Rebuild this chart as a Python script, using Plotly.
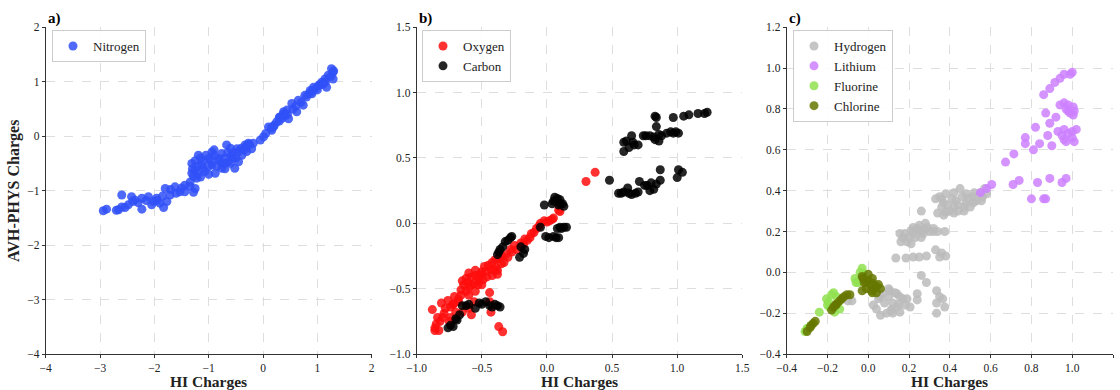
import plotly.graph_objects as go

# ---------------- data ----------------
N_x = [-2.94, -2.88, -2.66, -2.60, -2.54, -2.48, -2.42, -2.36, -2.23, -2.23, -2.11, -2.02,
       -1.96, -1.90, -1.83, -1.77, -1.80, -1.71, -1.62, -1.53, -1.44, -1.44, -1.28, -1.25,
       -1.34, -1.28, -1.31, -1.19, -1.25, -1.13, -1.07, -0.94, -0.94, -0.88, -0.76, -0.76,
       -0.67, -0.64, -0.58, -0.52, -0.48, -0.39, -0.33, -0.27, -0.21, -0.18, -0.45, -0.82,
       -1.00, -1.31, -1.22, -1.10, -0.70, -0.55, -0.30, -0.05, 0.01, 0.10, 0.16, 0.25,
       0.31, 0.37, 0.44, 0.47, 0.53, 0.62, 0.65, 0.74, 0.77, 0.87, 0.96, 1.02, 1.08, 1.14,
       1.17, 1.20, 1.26, 1.29, 1.29, 0.20, 0.40, 0.90, 1.10,
       -1.25, -1.20, -1.15, -1.10, -1.05, -1.00, -0.95, -0.90, -0.85, -0.80, -0.75, -0.70,
       -0.65, -0.60, -0.55, -0.50, -0.45, -0.40, -0.35, -0.30, -0.25, -1.20, -1.00, -0.90,
       -0.60, -0.70, -1.30, -1.15,
       -2.30, -2.15, -2.05, -1.95, -1.85, -1.70, -1.60, -1.50, -1.35, -2.40, -2.60, -2.70,
       0.05, 0.20, 0.30, 0.35, 0.40, 0.45, 0.38, 0.30, 0.55, 0.70, 0.80, 0.85, 0.90, 1.00,
       1.05, 1.12, 1.15, 1.25, 1.30, 0.93, 0.60, 0.15]
N_y = [-1.37, -1.34, -1.35, -1.08, -1.31, -1.26, -1.11, -1.17, -1.34, -1.14, -1.11, -1.20,
       -1.14, -1.23, -1.31, -1.20, -0.96, -1.08, -0.93, -1.02, -0.90, -1.02, -1.03, -0.96,
       -0.84, -0.74, -0.50, -0.35, -0.62, -0.53, -0.65, -0.29, -0.53, -0.68, -0.32, -0.59,
       -0.16, -0.47, -0.35, -0.59, -0.23, -0.35, -0.16, -0.13, -0.23, -0.13, -0.47, -0.41,
       -0.41, -0.68, -0.77, -0.45, -0.50, -0.40, -0.28, -0.07, -0.01, 0.17, 0.11, 0.26,
       0.35, 0.41, 0.48, 0.32, 0.60, 0.45, 0.66, 0.57, 0.75, 0.84, 0.87, 0.93, 0.99, 1.05,
       0.90, 1.12, 1.24, 1.05, 1.18, 0.18, 0.38, 0.82, 0.95,
       -0.45, -0.55, -0.40, -0.60, -0.35, -0.55, -0.45, -0.35, -0.55, -0.45, -0.50, -0.40,
       -0.30, -0.50, -0.30, -0.40, -0.28, -0.22, -0.25, -0.18, -0.15, -0.70, -0.70, -0.25,
       -0.22, -0.60, -0.60, -0.75,
       -1.22, -1.18, -1.26, -1.18, -1.10, -0.98, -1.05, -0.95, -0.92, -1.20, -1.30, -1.36,
       0.05, 0.20, 0.28, 0.33, 0.38, 0.40, 0.45, 0.35, 0.50, 0.62, 0.72, 0.78, 0.78, 0.85,
       0.95, 0.98, 1.00, 1.10, 1.20, 0.90, 0.55, 0.15]

O_x = [0.30, 0.37, 0.09, 0.04, 0.00, -0.02, -0.06, -0.10, -0.13, -0.15, -0.18, -0.23,
       -0.27, -0.30, -0.33, -0.35, -0.39, -0.43, -0.47, -0.51, -0.55, -0.58, -0.61, -0.64,
       -0.65, -0.60, -0.56, -0.46, -0.52, -0.38, -0.66, -0.71, -0.76, -0.81, -0.88, -0.85,
       -0.86, -0.83, -0.79, -0.74, -0.70, -0.58, -0.44, -0.44, -0.43, -0.37, -0.34, -0.75,
       -0.62, -0.53, -0.49, -0.41, -0.68, -0.72,
       -0.62, -0.60, -0.58, -0.55, -0.52, -0.50, -0.48, -0.45, -0.42, -0.40, -0.37, -0.35,
       -0.32, -0.28, -0.25, -0.20, -0.17, -0.12, -0.08, -0.05, 0.02, 0.05, 0.10, -0.66,
       -0.68, -0.72, -0.78, -0.80, -0.82, -0.86, -0.84, -0.74, -0.65, -0.60, -0.56, -0.60,
       -0.55, -0.50, -0.42, -0.38]
O_y = [0.32, 0.39, 0.10, 0.03, 0.01, 0.02, -0.02, -0.07, -0.11, -0.13, -0.16, -0.20,
       -0.22, -0.26, -0.30, -0.31, -0.34, -0.35, -0.37, -0.39, -0.40, -0.41, -0.45, -0.47,
       -0.44, -0.49, -0.46, -0.41, -0.44, -0.39, -0.51, -0.56, -0.59, -0.61, -0.66, -0.77,
       -0.82, -0.82, -0.69, -0.64, -0.68, -0.70, -0.53, -0.60, -0.68, -0.79, -0.83, -0.75,
       -0.52, -0.47, -0.43, -0.36, -0.58, -0.62,
       -0.42, -0.38, -0.47, -0.36, -0.41, -0.37, -0.33, -0.32, -0.30, -0.28, -0.27, -0.25,
       -0.24, -0.20, -0.17, -0.15, -0.12, -0.08, -0.04, 0.00, 0.02, 0.04, 0.09, -0.55,
       -0.60, -0.62, -0.65, -0.72, -0.75, -0.80, -0.72, -0.72, -0.68, -0.65, -0.60, -0.55,
       -0.52, -0.47, -0.40, -0.36]

C_x = [0.83, 0.84, 0.84, 0.97, 1.05, 1.09, 1.16, 1.21, 1.23, 0.59, 0.61, 0.65, 0.67, 0.59,
       0.74, 0.79, 0.86, 0.86, 0.92, 0.97, 1.01, 0.82, 0.48, 0.55, 0.59, 0.62, 0.65, 0.70,
       0.71, 0.77, 0.79, 0.80, 0.87, 0.87, 1.01, 1.04, 1.00, -0.02, 0.05, 0.08, 0.10, 0.13,
       -0.05, 0.08, 0.13, 0.015, 0.07, -0.28, -0.32, -0.34, -0.37, -0.20, -0.18, -0.21,
       -0.65, -0.62, -0.52, -0.47, -0.44, -0.38, -0.42, -0.72, -0.69, -0.76,
       -0.30, -0.27, -0.36, -0.38, -0.60, -0.50, -0.40, -0.36, -0.55, -0.74, -0.70, -0.67,
       0.06, 0.10, 0.12, 0.09, 0.04, 0.10, 0.15, 0.11, -0.01, 0.05, 0.09, -0.17,
       0.63, 0.66, 0.70, 0.76, 0.83, 0.88, 0.95, 0.99, 0.57, 0.63, 0.68, 0.75, 0.82, 0.84]
C_y = [0.82, 0.81, 0.74, 0.81, 0.82, 0.83, 0.84, 0.84, 0.85, 0.62, 0.63, 0.67, 0.60, 0.55,
       0.67, 0.67, 0.68, 0.63, 0.69, 0.69, 0.69, 0.66, 0.33, 0.23, 0.24, 0.27, 0.22, 0.24,
       0.32, 0.29, 0.25, 0.31, 0.33, 0.41, 0.41, 0.39, 0.35, 0.14, 0.17, 0.19, 0.15, 0.13,
       -0.03, -0.04, -0.03, -0.11, -0.11, -0.11, -0.14, -0.18, -0.22, -0.18, -0.23, -0.26,
       -0.63, -0.63, -0.61, -0.60, -0.63, -0.63, -0.64, -0.79, -0.74, -0.80,
       -0.13, -0.10, -0.20, -0.24, -0.62, -0.62, -0.62, -0.64, -0.65, -0.78, -0.73, -0.70,
       0.20, 0.18, 0.15, 0.14, 0.15, -0.03, -0.03, -0.04, -0.10, -0.10, -0.11, -0.20,
       0.58, 0.62, 0.60, 0.67, 0.64, 0.67, 0.70, 0.70, 0.23, 0.23, 0.23, 0.29, 0.26, 0.30]

H_x = [0.35, 0.38, 0.42, 0.45, 0.48, 0.515, 0.55, 0.57, 0.58, 0.555, 0.515, 0.47, 0.42, 0.38,
       0.34, 0.37, 0.43, 0.48, 0.26, 0.155, 0.16, 0.18, 0.21, 0.24, 0.25, 0.28, 0.29, 0.32,
       0.34, 0.375, 0.27, 0.23, 0.19, 0.25, 0.135, 0.185, 0.22, 0.25, 0.285, 0.33, 0.36, 0.38,
       0.35, 0.26, 0.285, 0.335, 0.35, 0.365, 0.375, 0.335, 0.335, 0.24, 0.24, 0.07, 0.105,
       0.14, 0.155, 0.19, 0.205, 0.15, 0.115, 0.09, 0.06, 0.025, 0.05, 0.12, 0.155, -0.10, -0.08,
       0.36, 0.39, 0.41, 0.44, 0.46, 0.49, 0.52, 0.44, 0.47, 0.50, 0.53, 0.56, 0.40, 0.36,
       0.33, 0.37, 0.42, 0.20, 0.22, 0.26, 0.28, 0.30, 0.22, 0.26, 0.17, 0.21, 0.32,
       0.10, 0.12, 0.13, 0.17, 0.08, 0.11, 0.14, 0.18, 0.04, 0.06, 0.10]
H_y = [0.37, 0.385, 0.39, 0.41, 0.385, 0.37, 0.39, 0.41, 0.385, 0.35, 0.34, 0.32, 0.32, 0.295,
       0.29, 0.34, 0.35, 0.34, 0.30, 0.19, 0.15, 0.19, 0.205, 0.215, 0.23, 0.24, 0.22, 0.215,
       0.20, 0.20, 0.19, 0.17, 0.15, 0.205, 0.07, 0.07, 0.075, 0.075, 0.08, 0.11, 0.095, 0.08,
       0.075, -0.015, -0.05, -0.09, -0.12, -0.13, -0.17, -0.15, -0.20, -0.105, -0.135, -0.105,
       -0.09, -0.105, -0.12, -0.13, -0.17, -0.155, -0.18, -0.20, -0.21, -0.16, -0.13, -0.20,
       -0.195, -0.14, -0.14,
       0.32, 0.33, 0.36, 0.33, 0.37, 0.36, 0.39, 0.30, 0.30, 0.32, 0.35, 0.37, 0.30, 0.36,
       0.36, 0.28, 0.29, 0.17, 0.19, 0.20, 0.21, 0.20, 0.22, 0.17, 0.17, 0.14, 0.20,
       -0.12, -0.15, -0.10, -0.13, -0.15, -0.19, -0.17, -0.16, -0.18, -0.12, -0.08]

Li_x = [1.00, 0.99, 0.96, 0.94, 0.915, 0.89, 0.86, 0.94, 0.96, 0.98, 1.005, 1.005, 0.98, 0.92,
        0.87, 0.89, 0.82, 0.77, 0.77, 0.84, 0.88, 0.90, 0.93, 0.96, 1.00, 1.02, 1.01, 0.96,
        0.81, 0.714, 0.673, 0.605, 0.58, 0.71, 0.74, 0.83, 0.89, 0.95, 0.97, 0.80, 0.86, 0.87,
        0.55, 0.97, 0.99, 1.01, 0.95, 0.98, 1.00, 0.97]
Li_y = [0.98, 0.97, 0.97, 0.95, 0.93, 0.90, 0.87, 0.82, 0.83, 0.82, 0.81, 0.77, 0.79, 0.76,
        0.78, 0.73, 0.71, 0.66, 0.63, 0.63, 0.67, 0.62, 0.69, 0.70, 0.69, 0.70, 0.64, 0.65,
        0.60, 0.58, 0.54, 0.43, 0.41, 0.43, 0.45, 0.44, 0.46, 0.44, 0.46, 0.36, 0.36, 0.36,
        0.39, 0.80, 0.78, 0.79, 0.67, 0.68, 0.66, 0.64]

F_x = [-0.03, -0.025, -0.065, -0.05, -0.17, -0.195, -0.205, -0.24, -0.155, -0.165, -0.17,
       -0.30, -0.29, -0.31, -0.04, -0.06, -0.18, -0.15, -0.19, -0.20, -0.14, -0.30, -0.28]
F_y = [0.02, -0.005, -0.03, -0.05, -0.10, -0.145, -0.13, -0.195, -0.12, -0.195, -0.17,
       -0.275, -0.27, -0.29, 0.00, -0.05, -0.11, -0.15, -0.17, -0.16, -0.18, -0.28, -0.26]

Cl_x = [-0.025, 0.0, 0.025, 0.04, -0.01, -0.03, 0.015, -0.105, -0.13, -0.155, -0.18, -0.14,
        -0.27, -0.285, -0.30, -0.02, 0.01, 0.03, -0.01, 0.02, -0.12, -0.16, -0.17, -0.28,
        -0.26, -0.09, 0.05, 0.06, 0.04, -0.03, 0.00, 0.02]
Cl_y = [-0.03, -0.04, -0.055, -0.07, -0.08, -0.09, -0.09, -0.11, -0.13, -0.155, -0.185, -0.14,
        -0.25, -0.27, -0.29, -0.05, -0.06, -0.08, -0.05, -0.10, -0.12, -0.16, -0.17, -0.26,
        -0.24, -0.11, -0.06, -0.08, -0.10, -0.02, -0.01, -0.03]

panel_labels = ["a)", "b)", "c)"]
x_title = "HI Charges"
y_title = "AVH-PHYS Charges"

# ---------------- figure ----------------
FONT = "'Liberation Serif', 'Times New Roman', Times, serif"
W, H = 1120, 390
fig = go.Figure()

def add(x, y, name, color, ax, legend):
    fig.add_trace(go.Scatter(
        x=x, y=y, mode="markers", name=name, showlegend=True,
        xaxis=ax[0], yaxis=ax[1], legend=legend,
        marker=dict(size=9, color=color, opacity=0.85, line=dict(width=0)),
    ))

add(N_x, N_y, "Nitrogen", "#3050F8", ("x", "y"), "legend")
add(O_x, O_y, "Oxygen", "#FF0D0D", ("x2", "y2"), "legend2")
add(C_x, C_y, "Carbon", "#000000", ("x2", "y2"), "legend2")
add(H_x, H_y, "Hydrogen", "#BBBBBB", ("x3", "y3"), "legend3")
add(Li_x, Li_y, "Lithium", "#CC80FF", ("x3", "y3"), "legend3")
add(F_x, F_y, "Fluorine", "#90E050", ("x3", "y3"), "legend3")
add(Cl_x, Cl_y, "Chlorine", "#667700", ("x3", "y3"), "legend3")

px_dom = [(45.7, 371.7), (416.7, 742.3), (786.7, 1113.0)]
ydom = [1 - 354.0 / H, 1 - 27.3 / H]
ranges = [((-4, 2), (-4, 2), 1, 1, None),
          ((-1, 1.5), (-1, 1.5), 0.5, 0.5, ".1f"),
          ((-0.4, 1.2), (-0.4, 1.2), 0.2, 0.2, ".1f")]

axis_common = dict(
    showline=True, linecolor="#333333", linewidth=1, mirror=False,
    ticks="outside", ticklen=3, tickcolor="#333333", tickwidth=1,
    showgrid=True, gridcolor="#dedede", griddash="dash", gridwidth=1,
    zeroline=False, automargin=False,
    tickfont=dict(family=FONT, size=11.5, color="#222222"),
)

for i, ((x0, x1), (xr, yr, dx, dy, fmt)) in enumerate(zip(px_dom, ranges)):
    sfx = "" if i == 0 else str(i + 1)
    xa = dict(axis_common, domain=[x0 / W, x1 / W], range=list(xr), dtick=dx, tick0=xr[0],
              anchor="y" + sfx)
    ya = dict(axis_common, domain=ydom, range=list(yr), dtick=dy, tick0=yr[0],
              anchor="x" + sfx)
    if fmt:
        xa["tickformat"] = fmt
        ya["tickformat"] = fmt
    fig.layout["xaxis" + sfx] = xa
    fig.layout["yaxis" + sfx] = ya
    fig.add_annotation(text="<b>%s</b>" % panel_labels[i], xref="paper", yref="paper",
                       x=x0 / W, y=1 - 18.5 / H, xanchor="left", yanchor="middle",
                       showarrow=False, font=dict(family=FONT, size=15, color="black"))
    fig.add_annotation(text="<b>%s</b>" % x_title, xref="paper", yref="paper",
                       x=(x0 + x1) / 2 / W, y=1 - 381.5 / H, xanchor="center", yanchor="middle",
                       showarrow=False, font=dict(family=FONT, size=15.5, color="#222222"))

fig.add_annotation(text="<b>%s</b>" % y_title, xref="paper", yref="paper",
                   x=14 / W, y=1 - 191 / H, xanchor="center", yanchor="middle", textangle=-90,
                   showarrow=False, font=dict(family=FONT, size=16, color="#222222"))

leg_common = dict(bgcolor="rgba(255,255,255,0.9)", bordercolor="#cccccc", borderwidth=1,
                  font=dict(family=FONT, size=13, color="#222222"),
                  xanchor="left", yanchor="top", y=1 - 30 / H, itemclick=False)
fig.update_layout(
    width=W, height=H, margin=dict(l=0, r=0, t=0, b=0, autoexpand=False),
    paper_bgcolor="white", plot_bgcolor="white",
    font=dict(family=FONT), showlegend=True,
    legend=dict(leg_common, x=52 / W),
    legend2=dict(leg_common, x=422 / W),
    legend3=dict(leg_common, x=793 / W),
)

fig.write_html("out.html")
